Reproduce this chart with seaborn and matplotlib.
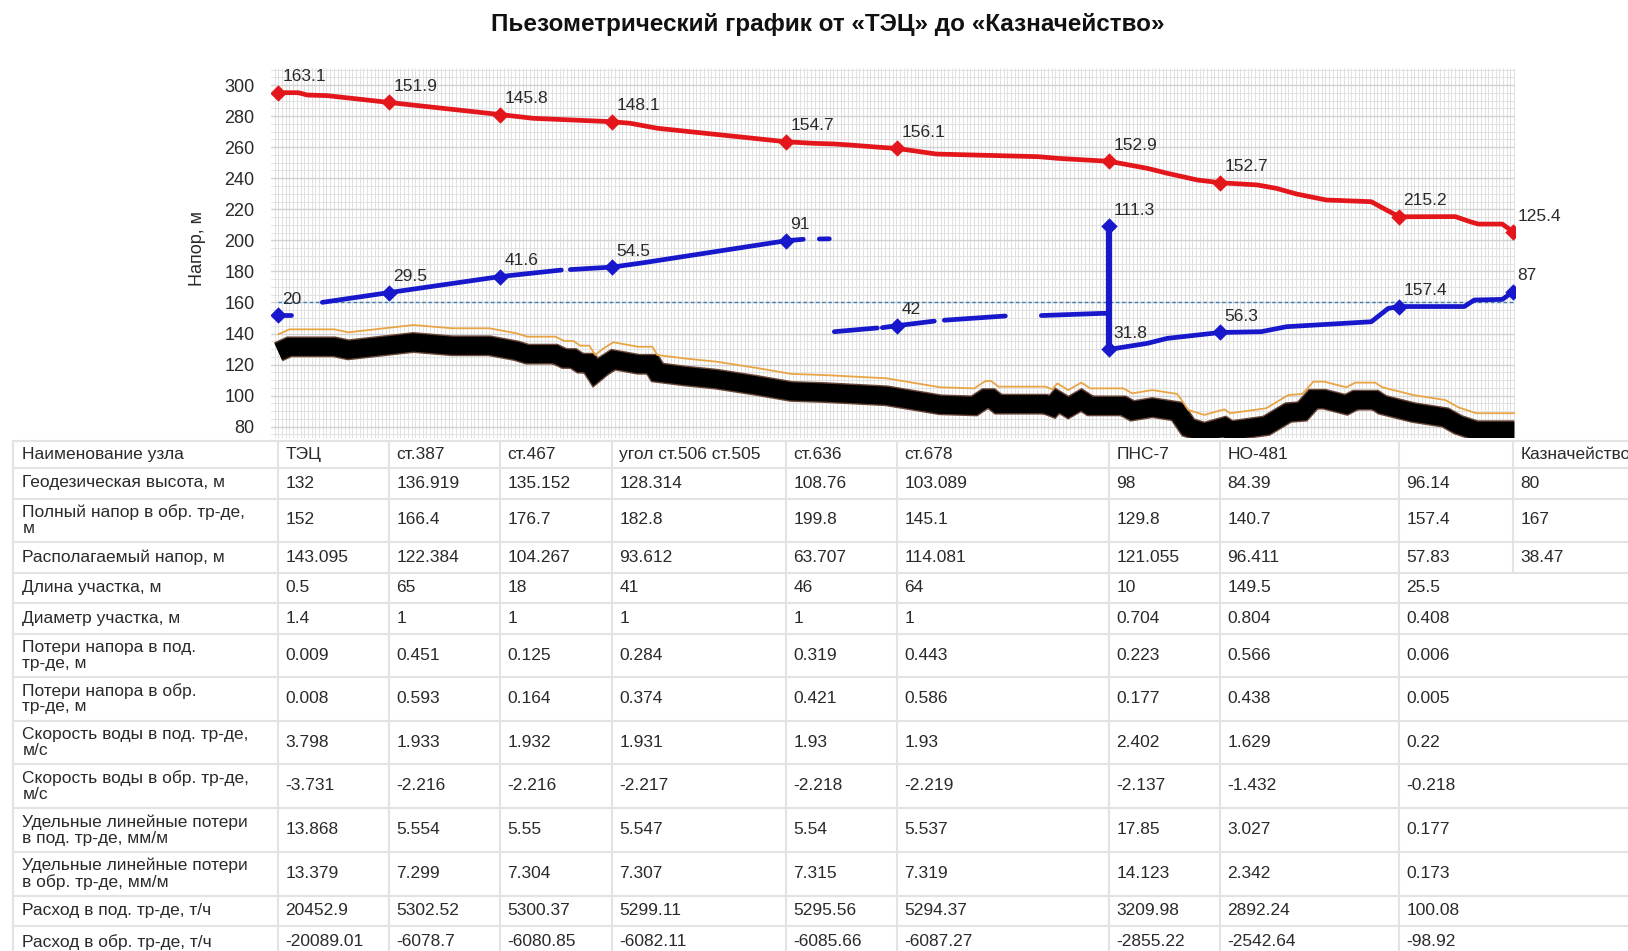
import numpy as np
import pandas as pd
import matplotlib
matplotlib.use("Agg")
import matplotlib.pyplot as plt
import matplotlib.patheffects as pe
import matplotlib.transforms as mtransforms
from matplotlib.ticker import MultipleLocator
import seaborn as sns

# ---- data ----
# distance along the route (chart units), one value per node
node_x = [0, 111, 222, 334, 508, 619, 831, 942, 1121, 1235]
node_names = ["ТЭЦ", "ст.387", "ст.467", "угол ст.506 ст.505", "ст.636",
              "ст.678", "ПНС-7", "НО-481", "", "Казначейство"]

# supply line (red)
supply_x = [0, 20, 29, 49, 111, 222, 255, 334, 352, 379, 508, 535, 555, 572, 600,
            619, 658, 760, 780, 831, 869, 889, 919, 942, 979, 998, 1018, 1048,
            1093, 1108, 1121, 1177, 1192, 1200, 1224, 1235]
supply_y = [295.1, 295.1, 293.6, 293.2, 288.8, 281.0, 278.6, 276.4, 275.4, 272.2,
            263.5, 262.5, 262.1, 261.4, 260.0, 259.2, 255.6, 253.9, 252.8, 250.9,
            246.4, 243.2, 238.9, 237.1, 235.7, 233.5, 229.9, 226.0, 224.9, 219.6,
            215.2, 215.3, 212.0, 210.5, 210.5, 205.4]
supply_node_y = [295.1, 288.8, 281.0, 276.4, 263.5, 259.2, 250.9, 237.1, 215.2, 205.4]
supply_labels = ["163.1", "151.9", "145.8", "148.1", "154.7", "156.1", "152.9",
                 "152.7", "215.2", "125.4"]

# return line (blue), split into drawn pieces
return_seg = [0, 0,
              1, 1, 1, 1,
              2, 2, 2, 2, 2,
              3, 3,
              4, 4,
              5, 5, 5,
              6, 6,
              7, 7, 7,
              9, 9, 9, 9, 9, 9, 9, 9, 9, 9, 9, 9, 9]
return_x = [0, 13,
            44, 111, 222, 283,
            292, 334, 365, 508, 525,
            541, 551,
            556, 599,
            604, 619, 656,
            666, 727,
            763, 824, 831,
            831, 869, 889, 942, 983, 1008, 1093, 1110, 1121, 1186, 1196, 1224, 1235]
return_y = [152.0, 152.0,
            160.1, 166.4, 176.7, 180.9,
            181.2, 182.8, 185.6, 199.8, 200.7,
            200.9, 201.0,
            141.2, 143.6,
            143.8, 145.1, 148.0,
            148.6, 151.3,
            151.6, 153.0, 153.0,
            129.8, 133.7, 136.9, 140.7, 141.2, 144.4, 147.6, 156.2, 157.4, 157.4,
            161.6, 162.0, 167.0]
pump_x = [831, 831]
pump_y = [209.3, 129.8]
return_mark_x = [0, 111, 222, 334, 508, 619, 831, 831, 942, 1121, 1235]
return_mark_y = [152, 166.4, 176.7, 182.8, 199.8, 145.1, 209.3, 129.8, 140.7, 157.4, 167]
return_labels = ["20", "29.5", "41.6", "54.5", "91", "42", "111.3", "31.8",
                 "56.3", "157.4", "87"]

static_level = 160

# terrain along the route (orange line); pipeline drawn just below it
ground_x = [0, 11, 56, 70, 135, 174, 211, 238, 249, 277, 286, 295, 302, 311, 317,
            324, 335, 360, 374, 379, 406, 438, 477, 513, 545, 608, 662, 696, 707,
            713, 720, 767, 774, 779, 790, 803, 812, 845, 854, 874, 899, 910, 926,
            946, 952, 988, 1010, 1024, 1035, 1046, 1068, 1077, 1097, 1104, 1135,
            1167, 1180, 1198, 1230, 1236]
ground_y = [139.5, 142.7, 142.7, 140.8, 145.5, 143.4, 143.4, 140.2, 138.0, 138.0,
            135.2, 135.2, 132.2, 132.2, 126.2, 129.9, 134.4, 131.5, 131.5, 126.2,
            124.0, 121.9, 118.0, 114.0, 113.3, 111.2, 105.4, 104.7, 109.4, 109.4,
            105.8, 105.8, 104.1, 107.9, 103.6, 108.4, 104.7, 104.7, 101.5, 103.6,
            101.1, 90.8, 87.6, 91.2, 88.7, 91.9, 100.4, 101.1, 109.0, 109.0, 105.4,
            108.4, 108.4, 105.4, 100.4, 97.2, 92.5, 88.7, 88.7, 88.7]

# table
row_labels = [
    "Наименование узла",
    "Геодезическая высота, м",
    "Полный напор в обр. тр-де,\nм",
    "Располагаемый напор, м",
    "Длина участка, м",
    "Диаметр участка, м",
    "Потери напора в под.\nтр-де, м",
    "Потери напора в обр.\nтр-де, м",
    "Скорость воды в под. тр-де,\nм/с",
    "Скорость воды в обр. тр-де,\nм/с",
    "Удельные линейные потери\nв под. тр-де, мм/м",
    "Удельные линейные потери\nв обр. тр-де, мм/м",
    "Расход в под. тр-де, т/ч",
    "Расход в обр. тр-де, т/ч",
]
geo_height = ["132", "136.919", "135.152", "128.314", "108.76", "103.089", "98", "84.39", "96.14", "80"]
return_head = ["152", "166.4", "176.7", "182.8", "199.8", "145.1", "129.8", "140.7", "157.4", "167"]
avail_head = ["143.095", "122.384", "104.267", "93.612", "63.707", "114.081", "121.055", "96.411", "57.83", "38.47"]
seg_length = ["0.5", "65", "18", "41", "46", "64", "10", "149.5", "25.5"]
seg_diam = ["1.4", "1", "1", "1", "1", "1", "0.704", "0.804", "0.408"]
loss_sup = ["0.009", "0.451", "0.125", "0.284", "0.319", "0.443", "0.223", "0.566", "0.006"]
loss_ret = ["0.008", "0.593", "0.164", "0.374", "0.421", "0.586", "0.177", "0.438", "0.005"]
vel_sup = ["3.798", "1.933", "1.932", "1.931", "1.93", "1.93", "2.402", "1.629", "0.22"]
vel_ret = ["-3.731", "-2.216", "-2.216", "-2.217", "-2.218", "-2.219", "-2.137", "-1.432", "-0.218"]
spec_sup = ["13.868", "5.554", "5.55", "5.547", "5.54", "5.537", "17.85", "3.027", "0.177"]
spec_ret = ["13.379", "7.299", "7.304", "7.307", "7.315", "7.319", "14.123", "2.342", "0.173"]
flow_sup = ["20452.9", "5302.52", "5300.37", "5299.11", "5295.56", "5294.37", "3209.98", "2892.24", "100.08"]
flow_ret = ["-20089.01", "-6078.7", "-6080.85", "-6082.11", "-6085.66", "-6087.27", "-2855.22", "-2542.64", "-98.92"]
table_rows = [node_names, geo_height, return_head, avail_head, seg_length, seg_diam,
              loss_sup, loss_ret, vel_sup, vel_ret, spec_sup, spec_ret, flow_sup, flow_ret]

RED = "#e3161b"
BLUE = "#1717cc"
TXT = "#2a2a2a"

sns.set_theme(style="white")
plt.rcParams["font.family"] = ["Liberation Sans", "DejaVu Sans"]

W, H = 1628, 951
fig = plt.figure(figsize=(W / 100, H / 100), dpi=100)
ax = fig.add_axes([271.3 / W, 1 - 437.6 / H, 1244 / W, 369.6 / H])
ax.set_xlim(-7, 1237)
ax.set_ylim(73, 311)

# grid
ax.set_axisbelow(True)
ax.set_xticks([])
ax.xaxis.set_minor_locator(MultipleLocator(3.7))
ax.set_yticks(range(80, 301, 20))
ax.yaxis.set_minor_locator(MultipleLocator(5))
ax.grid(which="minor", axis="x", color="#dadada", lw=0.6)
ax.grid(which="major", axis="y", color="#d2d2d2", lw=1.0)
ax.grid(which="minor", axis="y", color="#e2e2e2", lw=0.7)
ax.tick_params(which="both", length=0)
ax.tick_params(axis="y", pad=12, labelsize=13, labelcolor=TXT)
for s in ax.spines.values():
    s.set_visible(False)

# terrain + pipeline band
pipe_tr = mtransforms.offset_copy(ax.transData, fig=fig, y=-17.5, units="dots")
ax.plot(ground_x, ground_y, color="black", lw=13, transform=pipe_tr,
        solid_joinstyle="miter", solid_capstyle="butt", zorder=2,
        path_effects=[pe.Stroke(linewidth=15, foreground="#6a4638"), pe.Normal()])
sns.lineplot(x=ground_x, y=ground_y, color="#e9a545", lw=1.3, sort=False,
             estimator=None, ax=ax, zorder=3)

# static level
ax.hlines(static_level, node_x[0], node_x[-1], colors="#3d80b8", linestyles=(0, (2.5, 2)),
          lw=1.0, zorder=3)

# supply
sns.lineplot(x=supply_x, y=supply_y, color=RED, lw=3.4, sort=False, estimator=None,
             ax=ax, zorder=4)
sns.scatterplot(x=node_x, y=supply_node_y, marker="D", s=70, color=RED,
                edgecolor=RED, linewidth=0, ax=ax, zorder=5)

# return
ret = pd.DataFrame({"x": return_x, "y": return_y, "seg": return_seg})
sns.lineplot(data=ret, x="x", y="y", units="seg", estimator=None, sort=False,
             color=BLUE, lw=3.4, ax=ax, zorder=4, legend=False)
sns.lineplot(x=pump_x, y=pump_y, color=BLUE, lw=4.5, sort=False, estimator=None,
             ax=ax, zorder=4)
sns.scatterplot(x=return_mark_x, y=return_mark_y, marker="D", s=70, color=BLUE,
                edgecolor=BLUE, linewidth=0, ax=ax, zorder=5)

for x, y, t in zip(node_x, supply_node_y, supply_labels):
    ax.annotate(t, (x, y), xytext=(3, 6), textcoords="offset points", ha="left",
                va="bottom", fontsize=12.5, color=TXT, zorder=6)
for x, y, t in zip(return_mark_x, return_mark_y, return_labels):
    ax.annotate(t, (x, y), xytext=(3, 6), textcoords="offset points", ha="left",
                va="bottom", fontsize=12.5, color=TXT, zorder=6)

ax.set_xlabel("")
ax.set_ylabel("")
fig.text(197 / W, 1 - 249 / H, "Напор, м", rotation=90, ha="center", va="center",
         fontsize=13, color=TXT)
fig.text(828 / W, 1 - 24 / H, "Пьезометрический график от «ТЭЦ» до «Казначейство»",
         ha="center", va="center", fontsize=17.5, fontweight="bold", color="#111111")

# ---- table under the chart, columns aligned with the nodes ----
tax = fig.add_axes([0, 0, 1, 1], zorder=-1)
tax.set_xlim(0, W)
tax.set_ylim(H, 0)
tax.axis("off")

col_px = ax.transData.transform(np.c_[node_x, np.zeros(len(node_x))])[:, 0]
row_edges = [441, 467.5, 498.5, 541.5, 572.5, 603, 633.5, 677, 720.5, 764, 808,
             852, 895.5, 925.5, 958]
left_px = 12.5
line_c = "#e3e3e3"

for yb in row_edges[:-1]:
    tax.plot([left_px, W], [yb, yb], color=line_c, lw=1.5)
tax.plot([left_px, left_px], [row_edges[0], H], color=line_c, lw=1.5)
for i, cx in enumerate(col_px):
    y_end = row_edges[4] if i == len(col_px) - 1 else H
    tax.plot([cx, cx], [row_edges[0], y_end], color=line_c, lw=1.5)

for r, (lab, vals) in enumerate(zip(row_labels, table_rows)):
    yc = (row_edges[r] + row_edges[r + 1]) / 2
    tax.text(left_px + 10, yc, lab, ha="left", va="center", fontsize=12.5,
             color=TXT, linespacing=1.05)
    for cx, v in zip(col_px, vals):
        tax.text(cx + 7, yc, v, ha="left", va="center", fontsize=12.5, color=TXT,
                 clip_on=True)

fig.savefig("out.png", dpi=100)
